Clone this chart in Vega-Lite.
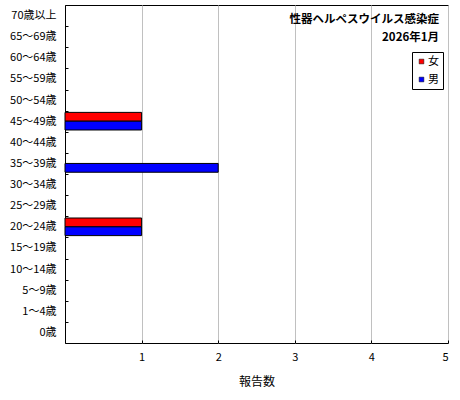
{
  "$schema": "https://vega.github.io/schema/vega-lite/v6.json",
  "autosize": "none",
  "width": 383,
  "height": 338,
  "padding": {"left": 65, "top": 5, "right": 12, "bottom": 57},
  "background": "white",
  "title": {
    "text": ["性器ヘルペスウイルス感染症", "2026年1月"],
    "anchor": "end",
    "frame": "group",
    "align": "right",
    "baseline": "top",
    "offset": -44,
    "dx": -9,
    "lineHeight": 18,
    "font": "Noto Sans CJK JP",
    "fontSize": 11.5,
    "fontWeight": "bold",
    "color": "#000000"
  },
  "config": {
    "font": "Noto Sans CJK JP",
    "view": {"stroke": "#000000", "strokeWidth": 1},
    "axis": {
      "labelFont": "Noto Sans CJK JP",
      "labelFontSize": 11,
      "labelColor": "#000000",
      "titleFont": "Noto Sans CJK JP",
      "titleFontSize": 12,
      "titleFontWeight": "normal",
      "titleColor": "#000000",
      "domainColor": "#000000",
      "tickColor": "#000000"
    }
  },
  "data": {
    "values": [
      {"age": "45～49歳", "sex": "女", "count": 1},
      {"age": "45～49歳", "sex": "男", "count": 1},
      {"age": "35～39歳", "sex": "男", "count": 2},
      {"age": "20～24歳", "sex": "女", "count": 1},
      {"age": "20～24歳", "sex": "男", "count": 1}
    ]
  },
  "mark": {"type": "bar", "stroke": "#000000", "strokeWidth": 1},
  "encoding": {
    "y": {
      "field": "age",
      "type": "nominal",
      "scale": {
        "domain": ["70歳以上", "65～69歳", "60～64歳", "55～59歳", "50～54歳", "45～49歳", "40～44歳", "35～39歳", "30～34歳", "25～29歳", "20～24歳", "15～19歳", "10～14歳", "5～9歳", "1～4歳", "0歳"],
        "paddingInner": 0,
        "paddingOuter": 0
      },
      "axis": {
        "title": null,
        "domain": false,
        "tickBand": "extent",
        "tickSize": -3,
        "labelPadding": 12
      }
    },
    "yOffset": {
      "field": "sex",
      "type": "nominal",
      "scale": {"domain": ["女", "男"], "paddingInner": 0, "paddingOuter": 0.2}
    },
    "x": {
      "field": "count",
      "type": "quantitative",
      "scale": {"domain": [0, 5], "nice": false},
      "axis": {
        "title": "報告数",
        "titlePadding": 14,
        "values": [1, 2, 3, 4, 5],
        "format": "d",
        "domain": false,
        "grid": true,
        "gridColor": "#c0c0c0",
        "gridWidth": 1,
        "tickSize": -3,
        "labelPadding": 11
      }
    },
    "color": {
      "field": "sex",
      "type": "nominal",
      "scale": {"domain": ["女", "男"], "range": ["#ff0000", "#0000ff"]},
      "legend": {
        "title": null,
        "orient": "none",
        "legendX": 347,
        "legendY": 47,
        "direction": "vertical",
        "symbolType": "square",
        "symbolSize": 22,
        "symbolStrokeColor": "#000000",
        "symbolStrokeWidth": 0.5,
        "labelFontSize": 11,
        "labelOffset": 1,
        "rowPadding": 6,
        "padding": 4,
        "strokeColor": "#000000",
        "fillColor": "#ffffff"
      }
    }
  }
}
